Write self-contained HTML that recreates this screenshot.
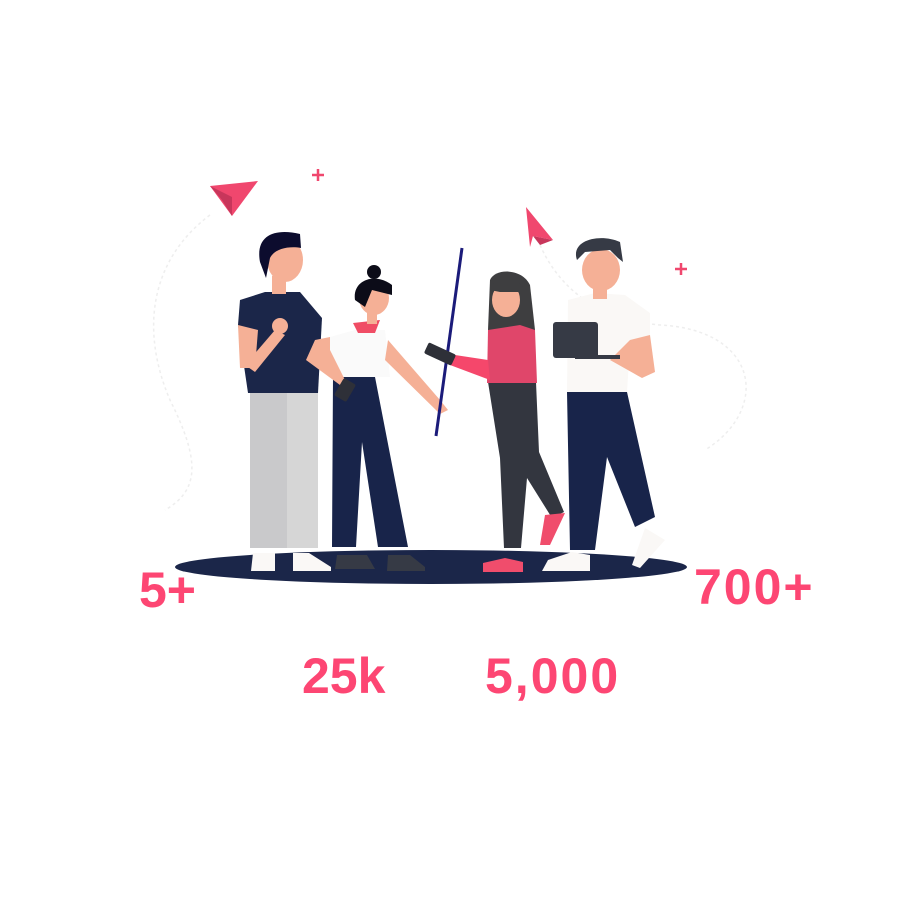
<!DOCTYPE html>
<html><head><meta charset="utf-8"><style>
html,body{margin:0;padding:0;background:#fff;width:900px;height:900px;overflow:hidden}
svg{display:block}
text{font-family:"Liberation Sans",sans-serif;font-weight:bold;fill:#fd4673}
</style></head><body>
<svg width="900" height="900" viewBox="0 0 900 900">
<path d="M210,215 C150,260 140,330 170,400 C200,460 200,490 165,510" fill="none" stroke="#eee" stroke-width="1.5" stroke-dasharray="3 3"/>
<path d="M540,245 C560,290 600,320 660,325 C760,330 770,410 705,450" fill="none" stroke="#eee" stroke-width="1.5" stroke-dasharray="3 3"/>
<polygon points="210,186 258,181 232,216" fill="#f0476e"/>
<polygon points="210,186 232,197 232,216 222,200" fill="#c8365b"/>
<polygon points="526,207 553,240 533,236 530,247" fill="#f0476e"/>
<polygon points="533,236 553,240 540,245" fill="#c8365b"/>
<path d="M318,169v12M312,175h12M681,263v12M675,269h12" stroke="#f0476e" stroke-width="2.5"/>
<ellipse cx="431" cy="567" rx="256" ry="17" fill="#1b2649"/>
<rect x="250" y="393" width="68" height="155" fill="#c9c9cb"/>
<rect x="287" y="393" width="31" height="155" fill="#d6d6d6"/>
<path d="M253,553h22v18h-24zM293,553h16l22,14v4h-38z" fill="#faf8f6"/>
<path d="M240,300 L265,292 L300,292 L322,318 L318,393 L248,393 L238,325z" fill="#1b2649"/>
<path d="M238,325 L258,330 L255,368 L240,368z" fill="#f5b096"/>
<path d="M245,365 L275,330 L285,335 L255,372z" fill="#f5b096"/>
<circle cx="280" cy="326" r="8" fill="#f5b096"/>
<rect x="272" y="276" width="14" height="18" fill="#f5b096"/>
<ellipse cx="285" cy="260" rx="18" ry="22" fill="#f5b096"/>
<path d="M260,262 C255,235 275,228 300,234 L301,248 C290,246 275,248 270,258 L266,278z" fill="#0c0c2e"/>
<path d="M333,377h42l33,170h-30l-16,-105l-6,105h-24z" fill="#18244a"/>
<path d="M337,555h30l8,14h-40zM388,555h22l15,12v4h-38z" fill="#363a45"/>
<path d="M330,337 L355,330 L385,330 L390,377 L330,377z" fill="#fafafa"/>
<path d="M388,340 L440,400 L448,410 L440,414 L385,360z" fill="#f5b096"/>
<path d="M315,340 L330,337 L330,350 L345,380 L340,385 L306,360z" fill="#f5b096"/>
<path d="M353,323 L380,320 L375,333 L358,333z" fill="#f04d65"/>
<rect x="367" y="312" width="10" height="12" fill="#f5b096"/>
<ellipse cx="374" cy="298" rx="15" ry="17" fill="#f5b096"/>
<path d="M355,300 C352,280 375,272 392,285 L392,295 L372,290 L365,307z" fill="#0c0c18"/>
<circle cx="374" cy="272" r="7" fill="#0c0c18"/>
<rect x="338" y="380" width="14" height="20" rx="2" transform="rotate(30 345 390)" fill="#2e3038"/>
<line x1="462" y1="248" x2="436" y2="436" stroke="#1b1b7a" stroke-width="3"/>
<path d="M488,382h48l3,70 l25,60 l-12,6 l-25,-40 l-6,70 h-17 l-4,-90z" fill="#33363f"/>
<path d="M545,515 L565,513 L550,545 L540,545z" fill="#f04d6c"/>
<path d="M483,563 L505,558 L523,562 L523,572 L483,572z" fill="#f04d6c"/>
<path d="M490,280 C495,268 522,268 530,285 L535,330 L488,330z" fill="#3e3e40"/>
<path d="M488,330 L520,325 L535,330 L537,383 L487,383z" fill="#e0466a"/>
<path d="M488,360 L455,355 L450,365 L490,380z" fill="#f5476b"/>
<ellipse cx="506" cy="300" rx="14" ry="17" fill="#f5b096"/>
<path d="M490,290 C492,275 520,275 525,292 L500,292z" fill="#3e3e40"/>
<rect x="425" y="348" width="30" height="12" rx="2" transform="rotate(25 440 354)" fill="#2e3038"/>
<path d="M567,392h60l28,125 l-20,10 l-28,-70 l-12,93 h-25 z" fill="#18244a"/>
<path d="M548,560 L572,552 L590,555 L590,571 L542,571z" fill="#faf8f6"/>
<path d="M645,528 L665,540 L640,568 L632,565z" fill="#faf8f6"/>
<path d="M568,300 L595,293 L625,295 L650,313 L650,340 L630,345 L627,392 L567,392z" fill="#faf8f6"/>
<path d="M630,340 L650,335 L655,372 L642,378 L610,360z" fill="#f5b096"/>
<rect x="553" y="322" width="45" height="36" rx="3" fill="#363a45"/>
<rect x="575" y="355" width="45" height="4" fill="#363a45"/>
<rect x="593" y="285" width="14" height="14" fill="#f5b096"/>
<ellipse cx="601" cy="270" rx="19" ry="21" fill="#f5b096"/>
<path d="M577,260 C570,240 600,233 620,242 L623,262 L618,258 L610,250 L585,252z" fill="#363a45"/>
<text x="139" y="607" font-size="50">5+</text>
<text x="694" y="604" font-size="50" letter-spacing="2">700+</text>
<text x="302" y="693" font-size="50">25k</text>
<text x="485" y="693" font-size="50" letter-spacing="2">5,000</text>
</svg>
</body></html>
